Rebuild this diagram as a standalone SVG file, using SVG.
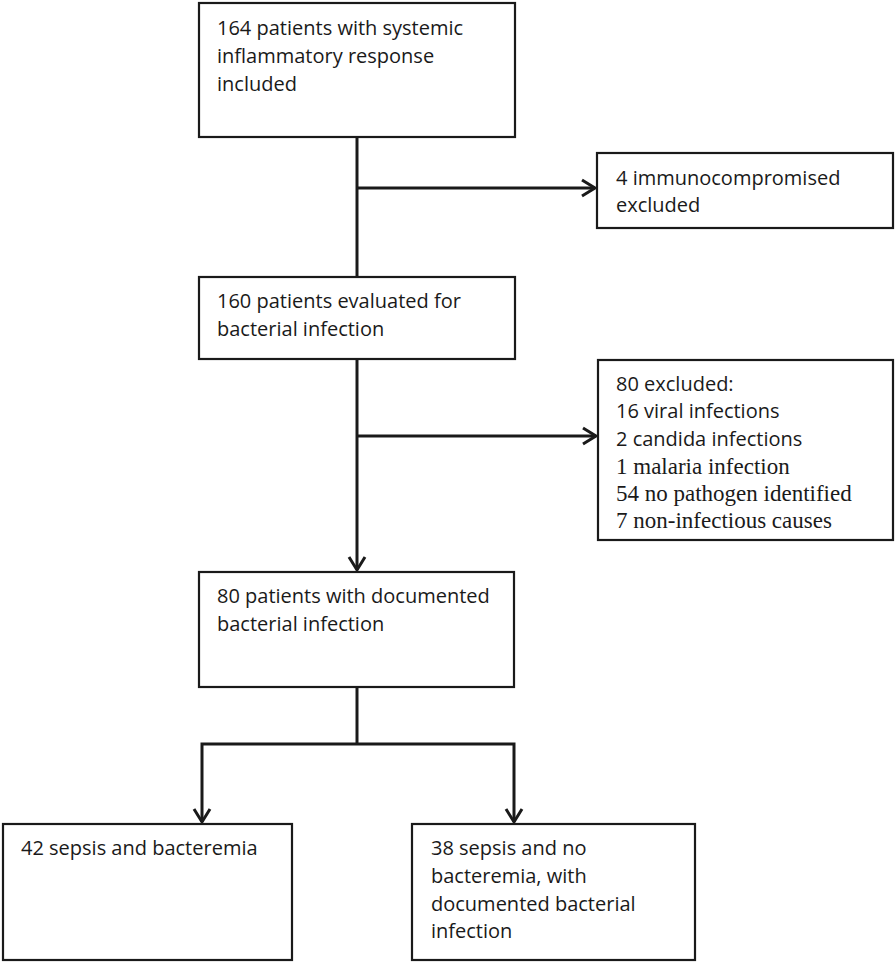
<svg xmlns="http://www.w3.org/2000/svg" width="896" height="963" viewBox="0 0 896 963">
<style>
.box{fill:#fff;stroke:#1a1a1a;stroke-width:2.2}
.t{font-family:"Open Sans","Liberation Sans",sans-serif;font-size:20px;fill:#1a1a1a}
.s{font-family:"Liberation Serif","Times New Roman",serif;font-size:23px;fill:#1a1a1a}
.c{fill:none;stroke:#1a1a1a;stroke-width:3}
</style>
<defs>
<marker id="arr" markerUnits="userSpaceOnUse" markerWidth="20" markerHeight="20" viewBox="-16 -10 18 20" refX="0" refY="0" orient="auto">
<path d="M-13,-8 L0,0 L-13,8" fill="none" stroke="#1a1a1a" stroke-width="3"/>
</marker>
</defs>
<rect width="896" height="963" fill="#fff"/>
<g id="connectors">
<path class="c" d="M357,137 V277"/>
<path class="c" d="M357,188 H595" marker-end="url(#arr)"/>
<path class="c" d="M357,359 V570" marker-end="url(#arr)"/>
<path class="c" d="M357,436 H596" marker-end="url(#arr)"/>
<path class="c" d="M357,687 V744"/>
<path class="c" d="M357,744 H202 V822" marker-end="url(#arr)"/>
<path class="c" d="M357,744 H514 V822" marker-end="url(#arr)"/>
</g>
<g id="n1">
<rect class="box" x="199" y="3" width="316" height="134"/>
<text class="t" x="217" y="35">164 patients with systemic</text>
<text class="t" x="217" y="63">inflammatory response</text>
<text class="t" x="217" y="91">included</text>
</g>
<g id="n2">
<rect class="box" x="597" y="153" width="296" height="75"/>
<text class="t" x="616" y="185">4 immunocompromised</text>
<text class="t" x="616" y="212">excluded</text>
</g>
<g id="n3">
<rect class="box" x="199" y="277" width="316" height="82"/>
<text class="t" x="217" y="308">160 patients evaluated for</text>
<text class="t" x="217" y="336">bacterial infection</text>
</g>
<g id="n4">
<rect class="box" x="598" y="360" width="295" height="180"/>
<text class="t" x="616" y="391">80 excluded:</text>
<text class="t" x="616" y="418">16 viral infections</text>
<text class="t" x="616" y="446">2 candida infections</text>
<text class="s" x="616" y="474">1 malaria infection</text>
<text class="s" x="616" y="501">54 no pathogen identified</text>
<text class="s" x="616" y="528">7 non-infectious causes</text>
</g>
<g id="n5">
<rect class="box" x="199" y="572" width="315" height="115"/>
<text class="t" x="217" y="603">80 patients with documented</text>
<text class="t" x="217" y="631">bacterial infection</text>
</g>
<g id="n6">
<rect class="box" x="3" y="824" width="289" height="136"/>
<text class="t" x="21" y="855">42 sepsis and bacteremia</text>
</g>
<g id="n7">
<rect class="box" x="412" y="824" width="283" height="136"/>
<text class="t" x="431" y="855">38 sepsis and no</text>
<text class="t" x="431" y="883">bacteremia, with</text>
<text class="t" x="431" y="911">documented bacterial</text>
<text class="t" x="431" y="938">infection</text>
</g>
</svg>
